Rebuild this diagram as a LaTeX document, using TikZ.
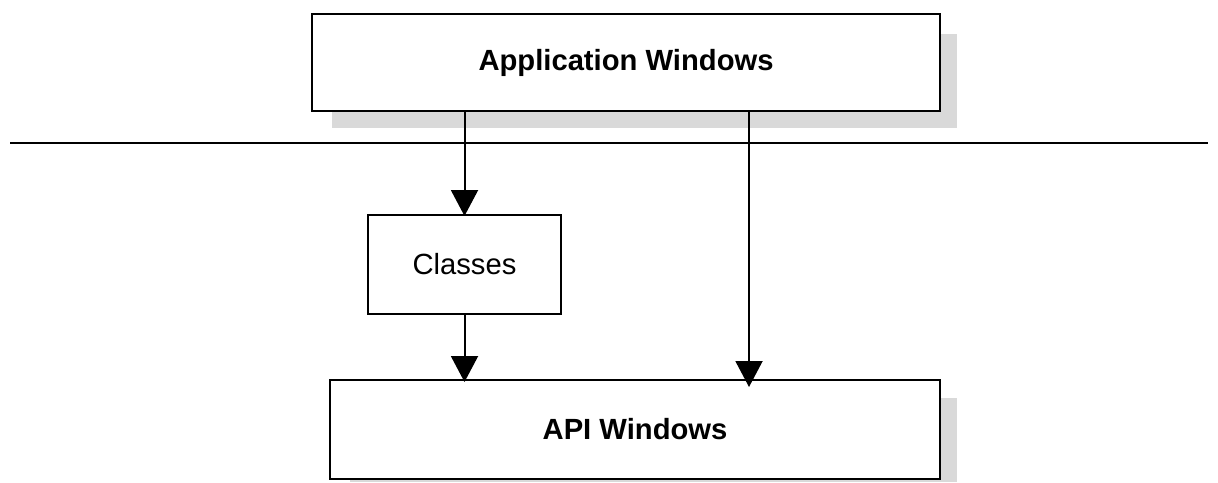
\documentclass[tikz,border=0pt]{standalone}
\usepackage{fontspec}
\setmainfont{Liberation Sans}
\usetikzlibrary{arrows.meta}
\definecolor{shadowgray}{RGB}{217,217,217}
\begin{document}
\begin{tikzpicture}[x=0.5pt,y=-0.5pt,
  box/.style={draw=black,fill=white,line width=1pt,rectangle,inner sep=0pt,font=\fontsize{14.6pt}{17pt}\selectfont},
  boldbox/.style={box,font=\fontsize{14.6pt}{17pt}\selectfont\bfseries},
  conn/.style={line width=1pt,-{Triangle[length=13pt,width=13.5pt]}}]
\useasboundingbox (0,0) rectangle (1218,482);
% shadows
\fill[shadowgray] (332,34) rectangle (957,128);
\fill[shadowgray] (350,398) rectangle (957,482);
% nodes
\node[boldbox,minimum width=314pt,minimum height=48.5pt] (app) at (626,62.5) {Application Windows};
\node[box,minimum width=96.5pt,minimum height=49.5pt] (cls) at (464.5,264.5) {Classes};
\node[boldbox,minimum width=305pt,minimum height=49.5pt] (api) at (635,429.5) {API Windows};
% separator line
\coordinate (sepL) at (10,143);
\coordinate (sepR) at (1208,143);
\draw[line width=1pt] (sepL) -- (sepR);
% connectors
\coordinate (rx) at (749,0);
\draw[conn,shorten >=-1pt] (app.south -| cls.north) -- (cls.north);
\draw[conn,shorten >=-1.5pt] (cls.south) -- (cls.south |- api.north);
\draw[conn,shorten >=-4pt] (app.south -| rx) -- (api.north -| rx);
\end{tikzpicture}
\end{document}
